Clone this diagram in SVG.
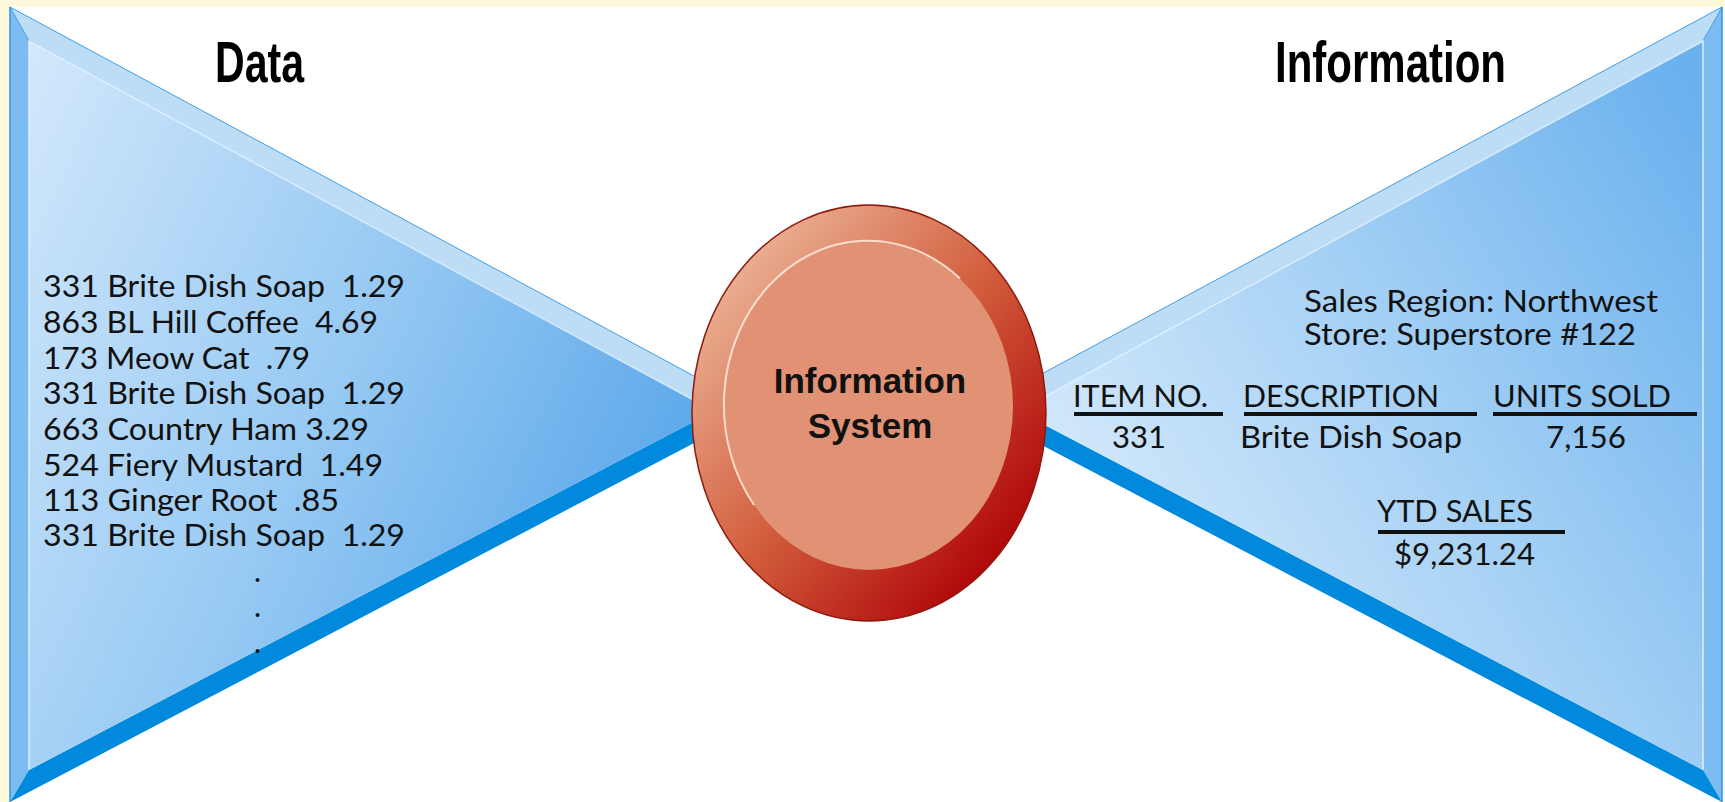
<svg xmlns="http://www.w3.org/2000/svg" width="1725" height="802" viewBox="0 0 1725 802">
<defs>
<linearGradient id="faceL" x1="0" y1="0" x2="1" y2="0.5">
<stop offset="0" stop-color="#D3E8FB"/>
<stop offset="0.55" stop-color="#96C9F3"/>
<stop offset="1" stop-color="#5CA8EA"/>
</linearGradient>
<linearGradient id="faceR" x1="0" y1="0.75" x2="1" y2="0.1">
<stop offset="0" stop-color="#DFEFFC"/>
<stop offset="0.5" stop-color="#A8D2F5"/>
<stop offset="1" stop-color="#6AB1EE"/>
</linearGradient>
<linearGradient id="ring" x1="0.15" y1="0.1" x2="0.9" y2="0.85">
<stop offset="0" stop-color="#EBB195"/>
<stop offset="0.5" stop-color="#D25E3D"/>
<stop offset="1" stop-color="#AE0307"/>
</linearGradient>
<style>
.strip{fill:#7DBCF0}
.topband{fill:#BDDDF7;stroke:#3F9DE8;stroke-width:1}
.botband{fill:#0089DD}
.hl{fill:none;stroke:#E6F3FF;stroke-width:1.5;opacity:0.9}
.title{font-family:"Liberation Sans",Arial,sans-serif;font-weight:bold;font-size:57px;fill:#000}
.lst{font-family:Lato,"Open Sans",sans-serif;font-size:30px;fill:#111;white-space:pre}
.ist{font-family:"Liberation Sans",Arial,sans-serif;font-weight:bold;font-size:35px;fill:#111}
.ul{stroke:#111;stroke-width:4}
</style>
</defs>
<rect x="0" y="0" width="1725" height="802" fill="#FFF9DC"/>
<rect x="10" y="7" width="1715" height="795" fill="#FFFFFF"/>

<g id="data-triangle">
<polygon class="strip" points="10,7 29,41 29,770 10,802"/>
<polygon class="topband" points="10,7 757,410 714,411 29,41"/>
<polygon class="botband" points="10,802 29,770 714,411 757,410"/>
<polygon fill="url(#faceL)" points="29,41 714,411 29,770"/>
<polyline class="hl" points="29,770 29,41 714,411"/>
<line x1="10" y1="7" x2="10" y2="802" stroke="#2E93E6" stroke-width="1.5"/>
<text class="title" x="215" y="82" textLength="89" lengthAdjust="spacingAndGlyphs">Data</text>
<text class="lst" x="43" y="297" textLength="362" lengthAdjust="spacingAndGlyphs">331 Brite Dish Soap  1.29</text>
<text class="lst" x="43" y="333" textLength="335" lengthAdjust="spacingAndGlyphs">863 BL Hill Coffee  4.69</text>
<text class="lst" x="43" y="369" textLength="267" lengthAdjust="spacingAndGlyphs">173 Meow Cat  .79</text>
<text class="lst" x="43" y="404" textLength="362" lengthAdjust="spacingAndGlyphs">331 Brite Dish Soap  1.29</text>
<text class="lst" x="43" y="440" textLength="326" lengthAdjust="spacingAndGlyphs">663 Country Ham 3.29</text>
<text class="lst" x="43" y="476" textLength="340" lengthAdjust="spacingAndGlyphs">524 Fiery Mustard  1.49</text>
<text class="lst" x="43" y="511" textLength="296" lengthAdjust="spacingAndGlyphs">113 Ginger Root  .85</text>
<text class="lst" x="43" y="546" textLength="362" lengthAdjust="spacingAndGlyphs">331 Brite Dish Soap  1.29</text>
<text class="lst" x="254" y="582">.</text>
<text class="lst" x="254" y="617">.</text>
<text class="lst" x="254" y="653">.</text>
</g>

<g id="information-triangle">
<polygon class="strip" points="1722,7 1703,41 1703,770 1722,802"/>
<polygon class="topband" points="1722,7 975,410 1018,411 1703,41"/>
<polygon class="botband" points="1722,802 1703,770 1018,411 975,410"/>
<polygon fill="url(#faceR)" points="1703,41 1018,411 1703,770"/>
<polyline class="hl" points="1703,770 1703,41 1018,411"/>
<line x1="1722" y1="7" x2="1722" y2="802" stroke="#2E93E6" stroke-width="1.5"/>
<text class="title" x="1275" y="82" textLength="231" lengthAdjust="spacingAndGlyphs">Information</text>
<text class="lst" x="1304" y="312" textLength="354" lengthAdjust="spacingAndGlyphs">Sales Region: Northwest</text>
<text class="lst" x="1304" y="345" textLength="332" lengthAdjust="spacingAndGlyphs">Store: Superstore #122</text>
<text class="lst" x="1073" y="407" textLength="135" lengthAdjust="spacingAndGlyphs">ITEM NO.</text>
<text class="lst" x="1243" y="407" textLength="196" lengthAdjust="spacingAndGlyphs">DESCRIPTION</text>
<text class="lst" x="1493" y="407" textLength="178" lengthAdjust="spacingAndGlyphs">UNITS SOLD</text>
<line class="ul" x1="1074" y1="414" x2="1223" y2="414"/>
<line class="ul" x1="1244" y1="414" x2="1477" y2="414"/>
<line class="ul" x1="1493" y1="414" x2="1697" y2="414"/>
<text class="lst" x="1112" y="448" textLength="54" lengthAdjust="spacingAndGlyphs">331</text>
<text class="lst" x="1240" y="448" textLength="222" lengthAdjust="spacingAndGlyphs">Brite Dish Soap</text>
<text class="lst" x="1546" y="448" textLength="80" lengthAdjust="spacingAndGlyphs">7,156</text>
<text class="lst" x="1377" y="522" textLength="156" lengthAdjust="spacingAndGlyphs">YTD SALES</text>
<line class="ul" x1="1378" y1="532" x2="1565" y2="532"/>
<text class="lst" x="1394" y="565" textLength="141" lengthAdjust="spacingAndGlyphs">$9,231.24</text>
</g>

<g id="information-system">
<ellipse cx="869" cy="413" rx="177" ry="208" fill="url(#ring)" stroke="#8E1A0E" stroke-width="1.5"/>
<ellipse cx="869" cy="406" rx="144" ry="164" fill="#E29274"/>
<path d="M754,505 A144,164 0 0 1 960,278.6" fill="none" stroke="#FCE6D9" stroke-width="2" opacity="0.9"/>
<text class="ist" x="870" y="393" text-anchor="middle">Information</text>
<text class="ist" x="870" y="438" text-anchor="middle">System</text>
</g>
</svg>
